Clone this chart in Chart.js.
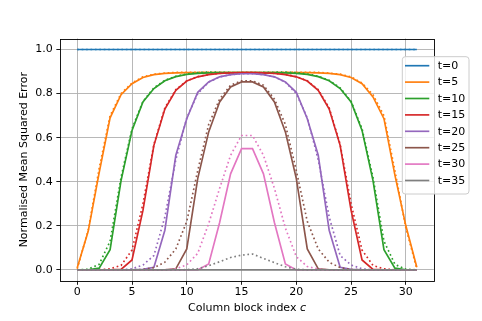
<!DOCTYPE html>
<html><head><meta charset="utf-8">
<script src="https://cdn.jsdelivr.net/npm/chart.js@4.4.1/dist/chart.umd.min.js"></script>
<style>html,body{margin:0;padding:0;background:#fff}canvas{display:block}</style>
</head><body>
<canvas id="c" width="482" height="321"></canvas>
<script>
// ---- data ----
const blockIndex = [0,1,2,3,4,5,6,7,8,9,10,11,12,13,14,15,16,17,18,19,20,21,22,23,24,25,26,27,28,29,30,31];
const xTickValues = [0,5,10,15,20,25,30];
const yTickValues = [0,0.2,0.4,0.6,0.8,1.0];
const seriesLabels = ['t=0','t=5','t=10','t=15','t=20','t=25','t=30','t=35'];
const seriesColors = ['#1f77b4','#ff7f0e','#2ca02c','#d62728','#9467bd','#8c564b','#e377c2','#7f7f7f'];

// solid lines (measured)
const solid_t0  = [1,1,1,1,1,1,1,1,1,1,1,1,1,1,1,1,1,1,1,1,1,1,1,1,1,1,1,1,1,1,1,1];
const solid_t5  = [0.01,0.175,0.44,0.69,0.795,0.845,0.873,0.886,0.892,0.894,0.895,0.895,0.895,0.895,0.895,0.895,0.895,0.895,0.895,0.895,0.895,0.895,0.894,0.892,0.886,0.873,0.845,0.785,0.686,0.43,0.2,0.012];
const solid_t10 = [0,0,0.008,0.092,0.405,0.633,0.762,0.823,0.858,0.877,0.887,0.892,0.894,0.895,0.895,0.895,0.895,0.895,0.895,0.894,0.892,0.887,0.877,0.858,0.823,0.762,0.633,0.405,0.092,0.008,0,0];
const solid_t15 = [0,0,0,0,0.002,0.045,0.27,0.565,0.73,0.815,0.857,0.876,0.886,0.891,0.894,0.895,0.895,0.894,0.891,0.886,0.876,0.857,0.815,0.73,0.565,0.27,0.045,0.002,0,0,0,0];
const solid_t20 = [0,0,0,0,0,0,0.002,0.012,0.18,0.52,0.686,0.806,0.853,0.876,0.886,0.89,0.89,0.886,0.876,0.853,0.806,0.686,0.52,0.18,0.012,0.002,0,0,0,0,0,0];
const solid_t25 = [0,0,0,0,0,0,0,0,0,0.005,0.095,0.414,0.626,0.762,0.83,0.853,0.853,0.83,0.762,0.626,0.414,0.095,0.005,0,0,0,0,0,0,0,0,0];
const solid_t30 = [0,0,0,0,0,0,0,0,0,0,0,0,0.027,0.215,0.436,0.55,0.55,0.436,0.215,0.027,0,0,0,0,0,0,0,0,0,0,0,0];
const solid_t35 = [0,0,0,0,0,0,0,0,0,0,0,0,0,0,0,0,0,0,0,0,0,0,0,0,0,0,0,0,0,0,0,0];

// dotted lines (predicted)
const dotted_t0  = [1,1,1,1,1,1,1,1,1,1,1,1,1,1,1,1,1,1,1,1,1,1,1,1,1,1,1,1,1,1,1,1];
const dotted_t5  = [0.005,0.18,0.46,0.70,0.80,0.848,0.876,0.888,0.893,0.896,0.897,0.897,0.896,0.895,0.895,0.895,0.895,0.895,0.895,0.896,0.897,0.897,0.896,0.893,0.888,0.876,0.848,0.795,0.70,0.45,0.19,0.005];
const dotted_t10 = [0,0.003,0.025,0.13,0.42,0.64,0.765,0.826,0.86,0.879,0.889,0.895,0.898,0.897,0.896,0.895,0.895,0.896,0.897,0.898,0.895,0.889,0.879,0.86,0.826,0.765,0.64,0.42,0.13,0.025,0.003,0];
const dotted_t15 = [0,0,0,0.005,0.02,0.09,0.30,0.57,0.735,0.818,0.858,0.877,0.887,0.892,0.894,0.895,0.895,0.894,0.892,0.887,0.877,0.858,0.818,0.735,0.57,0.30,0.09,0.02,0.005,0,0,0];
const dotted_t20 = [0,0,0,0,0,0.005,0.022,0.065,0.24,0.50,0.69,0.80,0.852,0.876,0.886,0.89,0.89,0.886,0.876,0.852,0.80,0.69,0.50,0.24,0.065,0.022,0.005,0,0,0,0,0];
const dotted_t25 = [0,0,0,0,0,0,0.002,0.01,0.035,0.095,0.22,0.45,0.66,0.775,0.838,0.858,0.858,0.838,0.775,0.66,0.45,0.22,0.095,0.035,0.01,0.002,0,0,0,0,0,0];
const dotted_t30 = [0,0,0,0,0,0,0,0,0,0.005,0.023,0.075,0.21,0.37,0.52,0.61,0.61,0.52,0.37,0.19,0.06,0.015,0.004,0,0,0,0,0,0,0,0,0];
const dotted_t35 = [0,0,0,0,0,0,0,0,0,0,0.001,0.005,0.019,0.037,0.056,0.067,0.072,0.052,0.033,0.014,0.003,0,0,0,0,0,0,0,0,0,0,0];

const solidSeries  = [solid_t0, solid_t5, solid_t10, solid_t15, solid_t20, solid_t25, solid_t30, solid_t35];
const dottedSeries = [dotted_t0, dotted_t5, dotted_t10, dotted_t15, dotted_t20, dotted_t25, dotted_t30, dotted_t35];

// ---- build ----
const FONT = 'DejaVu Sans';
const LW = 1.67;
const toXY = arr => arr.map((v, i) => ({x: blockIndex[i], y: v}));
const datasets = [];
const total = seriesLabels.length * 2;
let k = 0;
seriesLabels.forEach((lab, i) => {
  datasets.push({label: lab, data: toXY(solidSeries[i]), borderColor: seriesColors[i], backgroundColor: seriesColors[i],
    borderWidth: LW, pointRadius: 0, fill: false, tension: 0, order: total - (k++)});
  datasets.push({label: lab + ' model', data: toXY(dottedSeries[i]), borderColor: seriesColors[i], backgroundColor: seriesColors[i],
    borderWidth: LW, borderDash: [1.67, 2.75], borderCapStyle: 'butt', pointRadius: 0, fill: false, tension: 0, order: total - (k++)});
});

const decor = {
  id: 'decor',
  afterDatasetsDraw(chart) {
    const {ctx, chartArea: a} = chart;
    ctx.save();
    ctx.strokeStyle = '#000';
    ctx.lineWidth = 0.9;
    ctx.strokeRect(Math.round(a.left) + 0.5, Math.round(a.top) + 0.5, Math.round(a.right) - Math.round(a.left), Math.round(a.bottom) - Math.round(a.top));
    ctx.restore();
  },
  afterDraw(chart) {
    const {ctx, chartArea: a} = chart;
    ctx.save();
    // x-axis title with italic c
    const t1 = 'Column block index ', t2 = 'c';
    ctx.font = '11px "' + FONT + '"';
    const w1 = ctx.measureText(t1).width;
    ctx.font = 'italic 11px "' + FONT + '"';
    const w2 = ctx.measureText(t2).width;
    const cx = (a.left + a.right) / 2;
    let x0 = cx - (w1 + w2) / 2;
    ctx.fillStyle = '#000';
    ctx.textBaseline = 'alphabetic';
    ctx.textAlign = 'left';
    ctx.font = '11px "' + FONT + '"';
    ctx.fillText(t1, x0, 311);
    ctx.font = 'italic 11px "' + FONT + '"';
    ctx.fillText(t2, x0 + w1, 311);

    // legend
    const bx = 402.3, by = 56.7, bw = 66.7, bh = 137.3;
    ctx.beginPath();
    if (ctx.roundRect) ctx.roundRect(bx, by, bw, bh, 3); else ctx.rect(bx, by, bw, bh);
    ctx.fillStyle = 'rgba(255,255,255,0.8)';
    ctx.fill();
    ctx.strokeStyle = '#cccccc';
    ctx.lineWidth = 1;
    ctx.stroke();
    ctx.font = '11px "' + FONT + '"';
    ctx.textBaseline = 'middle';
    seriesLabels.forEach((lab, i) => {
      const y = 65.7 + i * 16.4;
      ctx.beginPath();
      ctx.strokeStyle = seriesColors[i];
      ctx.lineWidth = LW;
      ctx.moveTo(405, y);
      ctx.lineTo(429.3, y);
      ctx.stroke();
      ctx.fillStyle = '#000';
      ctx.fillText(lab, 437.7, y + 0.5);
    });
    ctx.restore();
  }
};

Chart.defaults.font.family = FONT;
Chart.defaults.font.size = 11;
Chart.defaults.color = '#000';

new Chart(document.getElementById('c'), {
  type: 'line',
  data: {datasets},
  plugins: [decor],
  options: {
    responsive: false, animation: false, devicePixelRatio: 1,
    layout: {padding: {left: 0, top: 38.5, right: 48.2, bottom: 0}},
    plugins: {legend: {display: false}, tooltip: {enabled: false}, title: {display: false}},
    scales: {
      x: {
        type: 'linear', min: -1.55, max: 32.55,
        afterBuildTicks: s => { s.ticks = xTickValues.map(v => ({value: v})); },
        afterFit: s => { s.height = 40.1; },
        ticks: {color: '#000', padding: 1, autoSkip: false, maxRotation: 0, callback: v => String(v), font: {size: 11}},
        grid: {color: '#b0b0b0', lineWidth: 0.9, tickColor: '#000', tickLength: 3.9, tickWidth: 0.9},
        border: {display: false}
      },
      y: {
        type: 'linear', min: -0.05, max: 1.05,
        afterBuildTicks: s => { s.ticks = yTickValues.map(v => ({value: v})); },
        afterFit: s => { s.width = 60.25; },
        ticks: {color: '#000', padding: 3.5, callback: v => Number(v).toFixed(1), font: {size: 11}},
        grid: {color: '#b0b0b0', lineWidth: 0.9, tickColor: '#000', tickLength: 3.9, tickWidth: 0.9},
        border: {display: false},
        title: {display: true, text: 'Normalised Mean Squared Error', color: '#000', font: {size: 11}, padding: {top: 18, bottom: 0}}
      }
    }
  }
});
</script>
</body></html>
